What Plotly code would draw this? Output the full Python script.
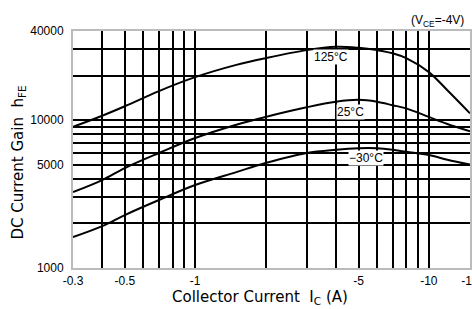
import math
import plotly.graph_objects as go

current = [0.3, 0.4, 0.5, 0.7, 1, 1.5, 2, 3, 4, 5, 6, 7, 8, 10, 12, 15]
gain_125 = [9000, 10700, 12400, 15700, 19500, 23600, 26200, 29700, 31300, 30800, 29700, 28300, 26200, 21100, 15900, 11100]
gain_25 = [3260, 3930, 4740, 5990, 7560, 9300, 10500, 12200, 13300, 13700, 13300, 12600, 12000, 10500, 9400, 8400]
gain_m30 = [1620, 1920, 2280, 2880, 3640, 4450, 5120, 5990, 6300, 6450, 6450, 6300, 6100, 5800, 5400, 5000]

x_tickvals = [0.3, 0.5, 1, 5, 10, 15]
x_ticktext = ["-0.3", "-0.5", "-1", "-5", "-10", "-15"]
x_grid = [0.4, 0.6, 0.7, 0.8, 0.9, 2, 3, 4, 6, 7, 8, 9]
y_tickvals = [1000, 5000, 10000, 40000]
y_ticktext = ["1000", "5000", "10000", "40000"]
y_grid = [2000, 3000, 4000, 6000, 7000, 8000, 9000, 20000, 30000]

labels = ["125°C", "25°C", "−30°C"]
label_x = [3.8, 4.6, 5.4]
label_y = [26650, 11330, 5540]

FONT = "Liberation Sans"
TFONT = "DejaVu Sans"

fig = go.Figure()
for g in (gain_125, gain_25, gain_m30):
    fig.add_trace(go.Scatter(x=current, y=g, mode="lines", line=dict(color="black", width=2, shape="spline"),
                             showlegend=False, hoverinfo="skip"))

# annotations on log axes take log10 coordinates
for t, xv, yv in zip(labels, label_x, label_y):
    fig.add_annotation(x=math.log10(xv), y=math.log10(yv), xref="x", yref="y", text=t, showarrow=False,
                       font=dict(family=FONT, size=12, color="black"), bgcolor="white", borderpad=0)

fig.add_annotation(x=0.99, y=1.0, xref="paper", yref="paper", xanchor="right", yanchor="bottom",
                   text="(V<sub>CE</sub>=-4V)", showarrow=False, yshift=0,
                   font=dict(family=FONT, size=12, color="black"))

fig.add_annotation(x=0.471, y=0, xref="paper", yref="paper", xanchor="center", yanchor="middle",
                   yshift=-29, text="Collector Current  I<sub>C</sub> (A)", showarrow=False,
                   font=dict(family=TFONT, size=15, color="black"))
fig.add_annotation(x=0, y=0.5, xref="paper", yref="paper", xanchor="center", yanchor="middle",
                   xshift=-55, yshift=-13, textangle=-90, text="DC Current Gain  h<sub>FE</sub>", showarrow=False,
                   font=dict(family=TFONT, size=15, color="black"))

fig.update_xaxes(type="log", range=[-0.5229, 1.1761], tickvals=x_tickvals, ticktext=x_ticktext,
                 showgrid=True, gridcolor="black", gridwidth=2, ticklabeloverflow="allow", automargin=False,
                 minor=dict(tickmode="array", tickvals=x_grid, showgrid=True, gridcolor="black", gridwidth=2, ticks=""),
                 showline=True, mirror=True, linecolor="#bbbbbb", linewidth=2, ticks="",
                 tickfont=dict(family=FONT, size=12, color="black"), zeroline=False, ticklabelstandoff=1)
fig.update_yaxes(type="log", range=[3, 4.6021], tickvals=y_tickvals, ticktext=y_ticktext,
                 showgrid=True, gridcolor="black", gridwidth=2, automargin=False,
                 minor=dict(tickmode="array", tickvals=y_grid, showgrid=True, gridcolor="black", gridwidth=2, ticks=""),
                 showline=True, mirror=True, linecolor="#bbbbbb", linewidth=2, ticks="",
                 tickfont=dict(family=FONT, size=12, color="black"), zeroline=False, ticklabelstandoff=5)

fig.update_layout(width=472, height=309, margin=dict(l=73, r=2, t=31, b=41),
                  plot_bgcolor="white", paper_bgcolor="white", hovermode=False)

fig.write_html("out.html", config={"displayModeBar": False, "staticPlot": True},
               post_script="document.body.style.margin='0';document.documentElement.style.overflow='hidden';")
